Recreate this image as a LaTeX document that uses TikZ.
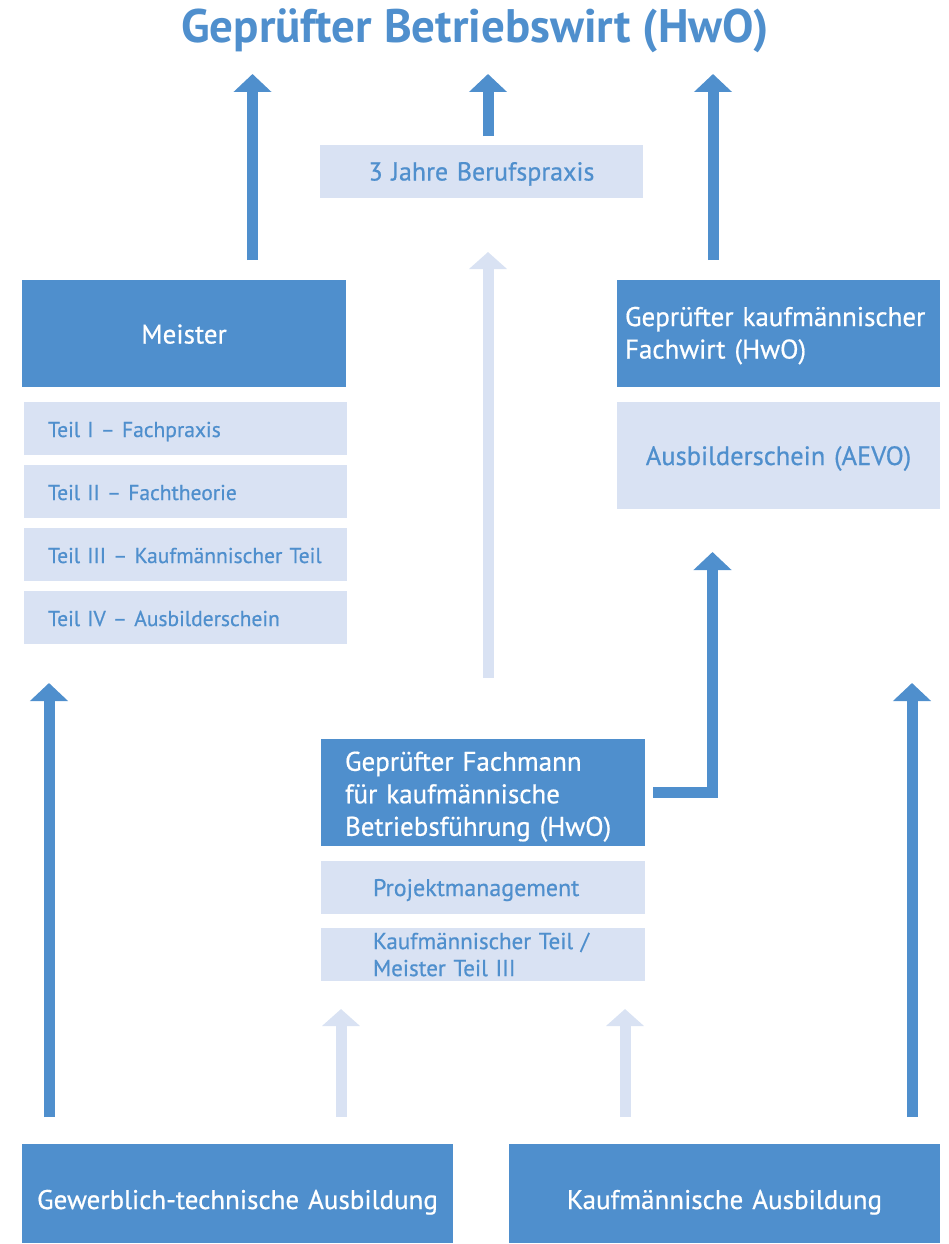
\documentclass[tikz,border=0pt]{standalone}
\usepackage{fontspec}
\setmainfont{PT Sans}
\newfontfamily\medium{PT Sans}[FakeBold=0.6]
\usetikzlibrary{arrows.meta}
\definecolor{dblue}{RGB}{79,143,205}
\definecolor{lblue}{RGB}{217,226,243}
\newcommand{\fs}[2]{\fontsize{#1}{#2}\medium}
\begin{document}
\begin{tikzpicture}[x=1pt,y=-1pt,
  box/.style={anchor=north west, inner ysep=0pt, outer sep=0pt, minimum height=#1},
  cap/.style={text height=#1, text depth=0pt},
  dk/.style={fill=dblue, text=white, font=\fs{27}{32.5}},
  lt/.style={fill=lblue, text=dblue},
  bigarrow/.style={draw=dblue, line width=11pt, -{Triangle[width=37pt,length=18pt]}},
  lightarrow/.style={draw=lblue, line width=11pt, -{Triangle[width=37pt,length=17pt]}}]
\useasboundingbox (0,0) rectangle (949,1244);

\node[text=dblue, font=\fontsize{47}{54}\selectfont\bfseries] (title) at (475,31) {Geprüfter Betriebswirt (HwO)};

\node[box=53pt, lt, cap=18pt, font=\fs{26}{30}, text width=323pt, inner xsep=0pt, align=center] (praxis) at (320,145) {3 Jahre Berufspraxis};

\node[box=107pt, dk, cap=20pt, text width=324pt, inner xsep=0pt, align=center] (meister) at (22,280) {Meister};
\node[box=53pt, lt, cap=17pt, font=\fs{21.5}{27}, text width=275pt, inner xsep=24pt, align=left] (t1) at (24,402) {Teil I – Fachpraxis};
\node[box=53pt, lt, cap=17pt, font=\fs{21.5}{27}, text width=275pt, inner xsep=24pt, align=left] (t2) at (24,465) {Teil II – Fachtheorie};
\node[box=53pt, lt, cap=17pt, font=\fs{21.5}{27}, text width=275pt, inner xsep=24pt, align=left] (t3) at (24,528) {Teil III – Kaufmännischer Teil};
\node[box=53pt, lt, cap=17pt, font=\fs{21.5}{27}, text width=275pt, inner xsep=24pt, align=left] (t4) at (24,591) {Teil IV – Ausbilderschein};

\node[box=107pt, dk, text height=23.5pt, text width=307pt, inner xsep=8pt, align=left] (fachwirt) at (617,280) {Geprüfter kaufmännischer\\Fachwirt (HwO)};
\node[box=107pt, lt, cap=19pt, font=\fs{26.5}{30}, text width=323pt, inner xsep=0pt, align=center] (aevo) at (617,402) {Ausbilderschein (AEVO)};

\node[box=107pt, dk, text height=27.5pt, text width=276pt, inner xsep=24pt, align=left] (fachmann) at (321,739) {Geprüfter Fachmann\\für kaufmännische\\Betriebsführung (HwO)};
\node[box=53pt, lt, cap=17pt, font=\fs{24}{27}, text width=220pt, inner xsep=52pt, align=left] (pm) at (321,861) {Projektmanagement};
\node[box=53pt, lt, font=\fs{23}{27}, text width=220pt, inner xsep=52pt, align=left] (kt) at (321,928) {Kaufmännischer Teil /\\Meister Teil III};

\node[box=99pt, dk, cap=31pt, text width=431pt, inner xsep=0pt, align=center] (gew) at (22,1144) {Gewerblich-technische Ausbildung};
\node[box=99pt, dk, cap=31pt, text width=431pt, inner xsep=0pt, align=center] (kfm) at (509,1144) {Kaufmännische Ausbildung};

% arrows
\coordinate (a1b) at (252.5,260); \coordinate (a1t) at (252.5,74);
\coordinate (a2b) at (488,136);   \coordinate (a2t) at (488,74);
\coordinate (a3b) at (713,260);   \coordinate (a3t) at (713,74);
\coordinate (a4b) at (488,678);   \coordinate (a4t) at (488,252);
\coordinate (a5b) at (653,792.5); \coordinate (a5t) at (712.5,552);
\coordinate (a6b) at (49,1117);   \coordinate (a6t) at (49,683);
\coordinate (a7b) at (912,1117);  \coordinate (a7t) at (912,683);
\coordinate (a8b) at (341,1117);  \coordinate (a8t) at (341,1009);
\coordinate (a9b) at (625,1117);  \coordinate (a9t) at (625,1009);

\draw[bigarrow] (a1b) -- (a1t);
\draw[bigarrow] (a2b) -- (a2t);
\draw[bigarrow] (a3b) -- (a3t);
\draw[lightarrow] (a4b) -- (a4t);
\draw[bigarrow, line join=miter] (a5b) -| (a5t);
\draw[bigarrow] (a6b) -- (a6t);
\draw[bigarrow] (a7b) -- (a7t);
\draw[lightarrow] (a8b) -- (a8t);
\draw[lightarrow] (a9b) -- (a9t);
\end{tikzpicture}
\end{document}
